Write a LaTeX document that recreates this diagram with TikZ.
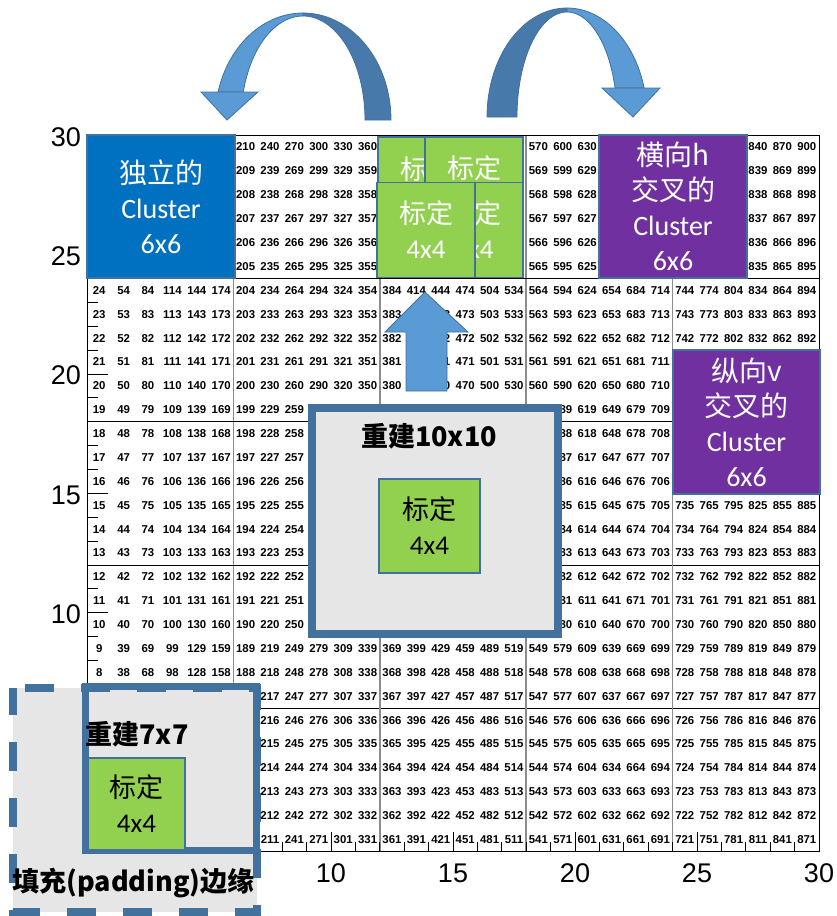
\documentclass[tikz,border=0pt]{standalone}
\usepackage{fontspec}
\setmainfont{Liberation Sans}
\newfontfamily\cjk{Noto Sans CJK SC}
\newfontfamily\carl{Carlito}
\definecolor{cblue}{HTML}{0070C0}
\definecolor{cpurple}{HTML}{7030A0}
\definecolor{cgreen}{HTML}{92D050}
\definecolor{cgray}{HTML}{E7E6E6}
\definecolor{cedge}{HTML}{41719C}
\definecolor{alight}{HTML}{5B9BD5}
\definecolor{adark}{HTML}{4879AB}
\definecolor{gline}{HTML}{8C8C8C}
\begin{document}
\begin{tikzpicture}[x=1pt,y=-1pt,
  num/.style={font=\fontsize{11.4}{12}\selectfont\bfseries, inner sep=0pt},
  ticklab/.style={font=\fontsize{27}{30}\selectfont, inner sep=0pt},
  cbox/.style={draw=cedge, line width=1.2pt, inner sep=0pt, align=center, text=white, font=\fontsize{28}{35}\selectfont},
  gbox/.style={draw=cedge, line width=1.2pt, fill=cgreen, inner sep=0pt, align=center, font=\fontsize{27}{35}\selectfont},
  btxt/.style={font=\cjk\bfseries\fontsize{27}{30}\selectfont, inner sep=0pt},
  band/.style={draw=cedge, line width=0.8pt},
]
\useasboundingbox (0,0) rectangle (836,916);
% grid numbers
\foreach \c in {0,...,29}{\foreach \r in {0,...,29}{
  \pgfmathtruncatemacro{\n}{30*\c+\r+1}
  \node[num] (n\n) at ({87+(\c+0.5)*24.4},{851.5-(\r+0.5)*23.88}) {\n};
}}
% grid lines
\foreach \k in {6,12,18,24}{
  \draw[black, line width=0.8pt] (87,{851.5-\k*23.88}) -- (819,{851.5-\k*23.88});
  \draw[gline, line width=1.6pt] ({87+\k*24.4},135) -- ({87+\k*24.4},851.5);
}
\draw[black, line width=1pt] (87,135) rectangle (819,851.5);
% ticks
\foreach \k in {1,...,29}{
  \pgfmathsetmacro{\len}{mod(\k,5)==0 ? 21 : 11}
  \draw[black, line width=0.8pt] (87,{851.5-\k*23.88}) -- ++(\len,0);
  \pgfmathsetmacro{\lenb}{mod(\k,5)==0 ? 20 : 10}
  \draw[black, line width=0.8pt] ({87+\k*24.4},851.5) -- ++(0,-\lenb);
}
% axis labels
\foreach \v in {10,15,20,25,30}{
  \node[ticklab, anchor=base east] (yl\v) at (81,{851.5-\v*23.88+11}) {\v};
  \node[ticklab, anchor=base] (xl\v) at ({87+\v*24.4},882) {\v};
}
% curved arrows (left)
\filldraw[band, fill=adark] plot[domain=90:0, samples=40] ({303+88*cos(\x)},{120-107*sin(\x)}) -- plot[domain=0:90, samples=40] ({303+62*cos(\x)},{120-104*sin(\x)}) -- cycle;
\filldraw[band, fill=alight] plot[domain=164.8:90, samples=40] ({303+88*cos(\x)},{120-107*sin(\x)}) -- plot[domain=90:164.4, samples=40] ({303+62*cos(\x)},{120-104*sin(\x)}) -- cycle;
\filldraw[band, fill=alight] (201,92) -- (258,92) -- (227,120) -- cycle;
% curved arrows (right)
\filldraw[band, fill=adark] plot[domain=90:180, samples=40] ({567+80*cos(\x)},{117-109*sin(\x)}) -- plot[domain=180:90, samples=40] ({567+50*cos(\x)},{117-105*sin(\x)}) -- cycle;
\filldraw[band, fill=alight] plot[domain=90:15.4, samples=40] ({567+80*cos(\x)},{117-109*sin(\x)}) -- plot[domain=16:90, samples=40] ({567+50*cos(\x)},{117-105*sin(\x)}) -- cycle;
\filldraw[band, fill=alight] (602,88) -- (660,88) -- (633,117) -- cycle;
% cluster boxes
\node[cbox, fill=cblue, minimum width=148pt, minimum height=143pt] (indep) at (161,206.5) {{\cjk 独立的}\\{\carl Cluster}\\{\carl 6x6}};
\node[cbox, fill=cpurple, minimum width=148pt, minimum height=143pt] (hbox) at (673,206.5) {{\cjk 横向h}\\{\cjk 交叉的}\\{\carl Cluster}\\{\carl 6x6}};
\node[cbox, fill=cpurple, minimum width=147pt, minimum height=144pt] (vbox) at (746.5,422) {{\cjk 纵向v}\\{\cjk 交叉的}\\{\carl Cluster}\\{\carl 6x6}};
% top calibration boxes
\node[gbox, text=white, minimum width=98pt, minimum height=95pt] (g1) at (427,184.5) {{\cjk 标定}\\[-2pt]\rule{0pt}{14pt}{\carl 4x4}};
\node[gbox, text=white, minimum width=98pt, minimum height=95pt] (g2) at (474,184.5) {\rule{0pt}{14pt}{\cjk 标定}\\{\carl 4x4}};
\node[gbox, text=white, minimum width=98pt, minimum height=95pt] (g4) at (474,230) {{\cjk 标定}\\{\carl 4x4}};
\node[gbox, text=white, minimum width=98pt, minimum height=95pt] (g3) at (426,230) {{\cjk 标定}\\{\carl 4x4}};
% up arrow
\filldraw[band, fill=alight] (406,391) -- (406,332) -- (385,332) -- (425,292) -- (468,332) -- (447,332) -- (447,391) -- cycle;
% reconstruction 10x10
\node[draw=cedge, line width=8pt, fill=cgray, minimum width=246pt, minimum height=226pt, inner sep=0pt] (rec10) at (435,521) {};
\node[btxt] (t10) at (429,436.5) {重建10x10};
\node[gbox, text=black, minimum width=101pt, minimum height=94pt] (g10) at (429.5,526) {{\cjk 标定}\\{\carl 4x4}};
% padding + reconstruction 7x7
\fill[cgray] (13,688) rectangle (256.5,912);
\draw[cedge, line width=8pt, dash pattern=on 29pt off 27pt, dash phase=44pt] (13,688) -- (256.5,688) -- (256.5,912) -- (13,912) -- cycle;
\draw[cedge, line width=7pt] (85.5,686.5) rectangle (256.5,850);
\node[btxt] (t7) at (137,734.5) {重建7x7};
\node[gbox, text=black, minimum width=97pt, minimum height=92pt] (g7) at (136.5,804) {{\cjk 标定}\\{\carl 4x4}};
\node[btxt] (tpad) at (133.5,883.5) {填充(padding)边缘};
\end{tikzpicture}
\end{document}
